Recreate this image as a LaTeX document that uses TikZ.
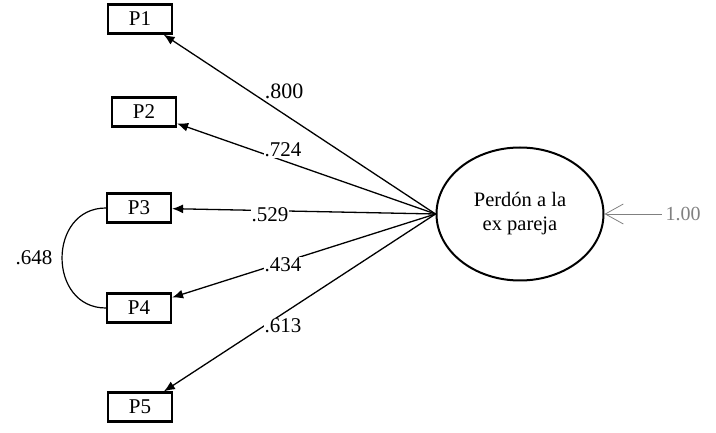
\documentclass[tikz,border=0pt]{standalone}
\usepackage{fontspec}
\setmainfont{Liberation Serif}
\usetikzlibrary{positioning,arrows,arrows.meta,shapes.geometric}

\begin{document}
\begin{tikzpicture}[x=1pt,y=-1pt,
    item/.style={draw,line width=2.2pt,minimum width=64pt,minimum height=29pt,inner sep=0pt,font=\fontsize{21}{24}\selectfont},
    coef/.style={fill=white,inner sep=0.5pt,font=\fontsize{21}{24}\selectfont},
    load/.style={line width=1.3pt,-{Latex[length=11pt,width=9pt]}}]

    \useasboundingbox (0,0) rectangle (716,433);

    \node (lat) [draw,ellipse,line width=2pt,minimum width=167pt,minimum height=133pt,align=center,font=\fontsize{20.5}{24}\selectfont] at (520,214) {Perdón a la\\ex pareja};

    \node (p1) [item] at (140,19) {P1};
    \node (p2) [item] at (144,112) {P2};
    \node (p3) [item] at (139,208) {P3};
    \node (p4) [item] at (139,308) {P4};
    \node (p5) [item] at (140,407) {P5};

    \path[load] (lat.west) edge (p1) edge (p2) edge (p3) edge (p4) edge (p5);

    \node (c1) [coef,font=\fontsize{22}{24}\selectfont] at (284,91) {.800};
    \node (c2) [coef] at (283,150) {.724};
    \node (c3) [coef] at (270,215) {.529};
    \node (c4) [coef] at (283,265) {.434};
    \node (c5) [coef] at (283,326) {.613};

    \draw[line width=1.2pt] (p3.west) to[out=180,in=180,looseness=1.5] (p4.west);
    \node (cov) [font=\fontsize{21}{24}\selectfont] at (34,258) {.648};

    \node (err) [gray,font=\fontsize{20}{24}\selectfont] at (683,214) {1.00};
    \draw[gray,line width=0.8pt,-{Straight Barb[length=18pt,width=20pt]}] (err.west) -- (lat.east);

\end{tikzpicture}
\end{document}
